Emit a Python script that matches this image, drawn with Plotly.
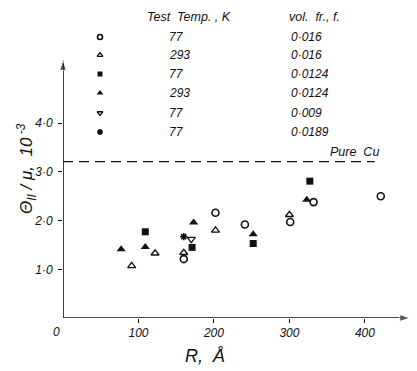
import plotly.graph_objects as go

# ---- data ----
R_o77_016 = [160, 202, 241, 301, 332, 421]
V_o77_016 = [1.21, 2.16, 1.92, 1.97, 2.38, 2.50]
R_t293_016 = [91, 122, 160, 202, 300]
V_t293_016 = [1.07, 1.33, 1.34, 1.80, 2.12]
R_s77_0124 = [109, 171, 252, 327]
V_s77_0124 = [1.77, 1.45, 1.53, 2.81]
R_T293_0124 = [77, 109, 173, 252, 323]
V_T293_0124 = [1.41, 1.46, 1.96, 1.72, 2.43]
R_v77_009 = [170]
V_v77_009 = [1.62]
R_x77_0189 = [160]
V_x77_0189 = [1.67]
pure_cu = 3.21
pure_cu_R = [0, 413]

temps = ["77", "293", "77", "293", "77", "77"]
volfr = ["0·016", "0·016", "0·0124", "0·0124", "0·009", "0·0189"]
yticks = [1, 2, 3, 4]
ytick_text = ["1·0", "2·0", "3·0", "4·0"]
xticks = [100, 200, 300, 400]
xtick_text = ["100", "200", "300", "400"]

FONT = "Liberation Sans"
BLACK = "#111"

series = [
    (R_o77_016, V_o77_016, dict(symbol="circle-open", size=7, line=dict(width=1.6, color=BLACK), color=BLACK)),
    (R_t293_016, V_t293_016, dict(symbol="triangle-up-open", size=7, line=dict(width=1.3, color=BLACK), color=BLACK)),
    (R_s77_0124, V_s77_0124, dict(symbol="square", size=7, color=BLACK, line=dict(width=0))),
    (R_T293_0124, V_T293_0124, dict(symbol="triangle-up", size=8, color=BLACK, line=dict(width=0))),
    (R_v77_009, V_v77_009, dict(symbol="triangle-down-open", size=7, line=dict(width=1.3, color=BLACK), color=BLACK)),
    (R_x77_0189, V_x77_0189, dict(symbol="asterisk", size=6, line=dict(width=1.6, color=BLACK), color=BLACK)),
]

fig = go.Figure()

# axes with arrowheads
fig.add_trace(go.Scatter(x=[0, 0], y=[0, 5.3], mode="lines+markers",
                         line=dict(color=BLACK, width=1.6),
                         marker=dict(symbol="arrow", angleref="previous", size=[0, 11], color=BLACK),
                         hoverinfo="skip", showlegend=False, cliponaxis=False))
fig.add_trace(go.Scatter(x=[0, 460], y=[0, 0], mode="lines+markers",
                         line=dict(color=BLACK, width=1.6),
                         marker=dict(symbol="arrow", angleref="previous", size=[0, 11], color=BLACK),
                         hoverinfo="skip", showlegend=False, cliponaxis=False))

# dashed pure Cu line
fig.add_trace(go.Scatter(x=pure_cu_R, y=[pure_cu, pure_cu], mode="lines",
                         line=dict(color=BLACK, width=1.2, dash="10px,6px"),
                         hoverinfo="skip", showlegend=False))

for xs, ys, mk in series:
    fig.add_trace(go.Scatter(x=xs, y=ys, mode="markers", marker=mk,
                             showlegend=False, cliponaxis=False))

# legend table (symbols in data coordinates of upper-left empty area)
leg_x = 49
leg_rows = [5.77, 5.40, 5.01, 4.62, 4.21, 3.82]
for (xs, ys, mk), yy in zip(series, leg_rows):
    m = dict(mk)
    m["size"] = max(5, mk["size"] - 2)
    fig.add_trace(go.Scatter(x=[leg_x], y=[yy], mode="markers", marker=m,
                             showlegend=False, cliponaxis=False))

W, H = 417, 371
L, B = 63, 53
pw = W - L
ph = H - B

ann = []
fi = dict(family=FONT, size=12, color=BLACK, style="italic")
for t, v, yy in zip(temps, volfr, leg_rows):
    ann.append(dict(x=(167 - L) / pw, y=yy, xref="paper", yref="y", text=t, showarrow=False,
                    xanchor="left", yanchor="middle", font=fi))
    ann.append(dict(x=(289 - L) / pw, y=yy, xref="paper", yref="y", text=v, showarrow=False,
                    xanchor="left", yanchor="middle", font=fi))

ann.append(dict(x=(145 - L) / pw, y=1 - 17 / ph, xref="paper", yref="paper",
                text="Test  Temp. , K", showarrow=False, xanchor="left", yanchor="middle",
                font=dict(family=FONT, size=12.5, color=BLACK, style="italic")))
ann.append(dict(x=(287 - L) / pw, y=1 - 17 / ph, xref="paper", yref="paper",
                text="vol.  fr., f.", showarrow=False, xanchor="left", yanchor="middle",
                font=dict(family=FONT, size=12.5, color=BLACK, style="italic")))
ann.append(dict(x=(328 - L) / pw, y=1 - 152 / ph, xref="paper", yref="paper",
                text="Pure  Cu", showarrow=False, xanchor="left", yanchor="middle",
                font=dict(family=FONT, size=12.5, color=BLACK, style="italic")))
ann.append(dict(x=(56 - L) / pw, y=-(332 - ph) / ph, xref="paper", yref="paper",
                text="0", showarrow=False, xanchor="center", yanchor="middle",
                font=fi))
ann.append(dict(x=(205 - L) / pw, y=-(356 - ph) / ph, xref="paper", yref="paper",
                text="R,  Å", showarrow=False, xanchor="center", yanchor="middle",
                font=dict(family=FONT, size=18, color=BLACK, style="italic")))
ann.append(dict(x=(26 - L) / pw, y=1 - 169 / ph, xref="paper", yref="paper",
                text="Θ<sub>II</sub> / μ,  10<sup> -3</sup>", showarrow=False, textangle=-90,
                xanchor="center", yanchor="middle",
                font=dict(family=FONT, size=17, color=BLACK, style="italic")))

fig.update_layout(
    width=W, height=H,
    margin=dict(l=L, r=0, t=0, b=B),
    paper_bgcolor="white", plot_bgcolor="white",
    annotations=ann,
    xaxis=dict(range=[0, 469], showgrid=False, zeroline=False, showline=False,
               tickmode="array", tickvals=xticks, ticktext=xtick_text,
               ticks="outside", ticklen=4, tickwidth=1, tickcolor=BLACK,
               tickfont=dict(family=FONT, size=12, color=BLACK, style="italic")),
    yaxis=dict(range=[0, 6.53], showgrid=False, zeroline=False, showline=False,
               tickmode="array", tickvals=yticks, ticktext=ytick_text,
               ticks="outside", ticklen=4, tickwidth=1, tickcolor=BLACK,
               ticklabelstandoff=3,
               tickfont=dict(family=FONT, size=12, color=BLACK, style="italic")),
)

fig.write_html("out.html")
